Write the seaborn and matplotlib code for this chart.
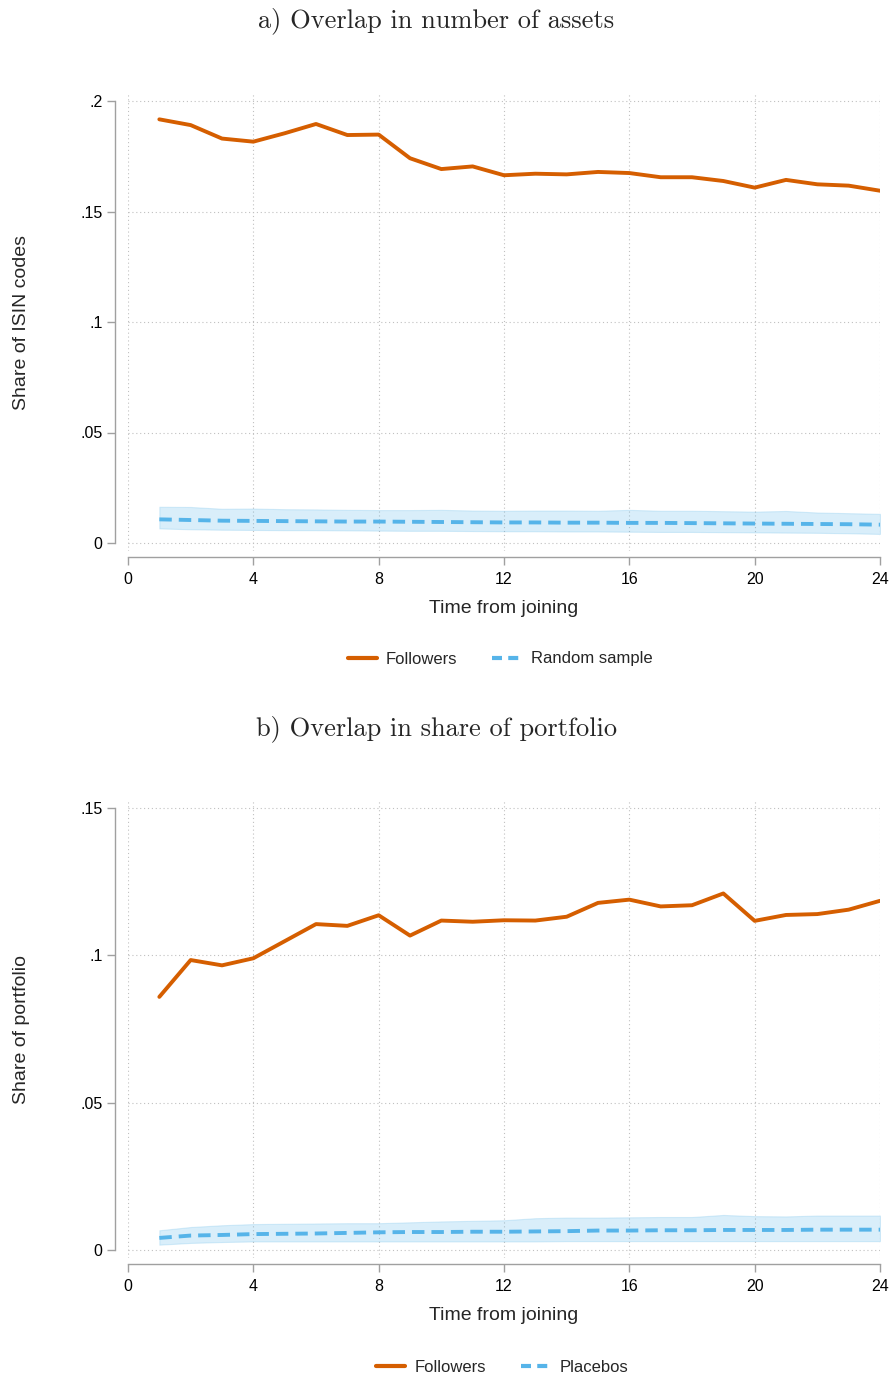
import numpy as np
import pandas as pd
import matplotlib
matplotlib.use("Agg")
import matplotlib.pyplot as plt
import seaborn as sns

# ---------------- data ----------------
months = list(range(1, 25))

followers_a = [0.1917, 0.1891, 0.1830, 0.1816, 0.1854, 0.1896, 0.1846, 0.1848,
               0.1741, 0.1692, 0.1704, 0.1664, 0.1671, 0.1668, 0.1679, 0.1674,
               0.1655, 0.1655, 0.1638, 0.1608, 0.1643, 0.1623, 0.1617, 0.1594]
random_a = [0.0107, 0.0104, 0.0101, 0.0100, 0.0099, 0.0098, 0.0097, 0.0097,
            0.0096, 0.0095, 0.0094, 0.0093, 0.0093, 0.0092, 0.0092, 0.0091,
            0.0091, 0.0090, 0.0089, 0.0088, 0.0087, 0.0086, 0.0085, 0.0083]
random_a_hi = [0.0164, 0.0163, 0.0155, 0.0156, 0.0153, 0.0152, 0.0150, 0.0149,
               0.0149, 0.0150, 0.0147, 0.0146, 0.0147, 0.0147, 0.0146, 0.0150,
               0.0146, 0.0146, 0.0144, 0.0142, 0.0145, 0.0138, 0.0135, 0.0132]
random_a_lo = [0.0066, 0.0062, 0.0060, 0.0059, 0.0058, 0.0058, 0.0057, 0.0056,
               0.0055, 0.0055, 0.0054, 0.0053, 0.0053, 0.0052, 0.0052, 0.0051,
               0.0050, 0.0050, 0.0049, 0.0048, 0.0047, 0.0046, 0.0044, 0.0041]

followers_b = [0.0859, 0.0984, 0.0966, 0.0990, 0.1048, 0.1106, 0.1100, 0.1136,
               0.1067, 0.1118, 0.1114, 0.1119, 0.1118, 0.1131, 0.1178, 0.1189,
               0.1166, 0.1170, 0.1210, 0.1117, 0.1137, 0.1140, 0.1155, 0.1185]
placebo_b = [0.0041, 0.0049, 0.0051, 0.0054, 0.0055, 0.0056, 0.0058, 0.0060,
             0.0061, 0.0061, 0.0062, 0.0062, 0.0063, 0.0064, 0.0066, 0.0066,
             0.0067, 0.0067, 0.0068, 0.0068, 0.0068, 0.0069, 0.0069, 0.0069]
placebo_b_hi = [0.0067, 0.0078, 0.0084, 0.0088, 0.0089, 0.0090, 0.0091, 0.0091,
                0.0094, 0.0097, 0.0099, 0.0101, 0.0108, 0.0110, 0.0110, 0.0111,
                0.0112, 0.0112, 0.0119, 0.0115, 0.0114, 0.0117, 0.0117, 0.0117]
placebo_b_lo = [0.0018, 0.0024, 0.0027, 0.0029, 0.0029, 0.0029, 0.0029, 0.0029,
                0.0029, 0.0029, 0.0029, 0.0029, 0.0029, 0.0030, 0.0030, 0.0030,
                0.0030, 0.0030, 0.0030, 0.0030, 0.0030, 0.0030, 0.0030, 0.0030]

x_ticks = [0, 4, 8, 12, 16, 20, 24]
y_ticks_a = [0, 0.05, 0.1, 0.15, 0.2]
y_labels_a = ["0", ".05", ".1", ".15", ".2"]
y_ticks_b = [0, 0.05, 0.1, 0.15]
y_labels_b = ["0", ".05", ".1", ".15"]

# ---------------- style ----------------
sns.set_theme(style="white")
plt.rcParams["font.family"] = ["Liberation Sans", "DejaVu Sans"]

ORANGE = "#D55E00"
BLUE = "#56B4E9"
GRAY = "#a0a0a0"
PX = 72 / 100  # points per pixel at dpi 100

fig = plt.figure(figsize=(8.92, 13.76), dpi=100)


def panel(rect, foll, rnd, lo, hi, yt, yl, ylim, ylabel, title, title_y, leg2, leg_x, leg_y):
    ax = fig.add_axes(rect)
    ax.fill_between(months, lo, hi, color=BLUE, alpha=0.22, linewidth=0.8,
                    edgecolor=(0.34, 0.71, 0.91, 0.25), zorder=1)
    df = pd.DataFrame({"t": months, "f": foll, "r": rnd})
    sns.lineplot(data=df, x="t", y="f", ax=ax, color=ORANGE, lw=2.8, zorder=3)
    sns.lineplot(data=df, x="t", y="r", ax=ax, color=BLUE, lw=2.8, zorder=3)
    ax.lines[-1].set_dashes([3.2, 1.8])
    ax.set_xlim(0, 24)
    ax.set_ylim(*ylim)
    ax.set_xticks(x_ticks)
    ax.set_xticklabels([str(v) for v in x_ticks])
    ax.set_yticks(yt)
    ax.set_yticklabels(yl)
    ax.grid(True, color="#c0c0c0", linestyle=(0, (1, 2.5)), linewidth=0.8)
    for s in ["top", "right"]:
        ax.spines[s].set_visible(False)
    ax.spines["left"].set_position(("outward", 13 * PX))
    ax.spines["bottom"].set_position(("outward", 6 * PX))
    ax.spines["left"].set_bounds(yt[0], yt[-1])
    ax.spines["bottom"].set_bounds(0, 24)
    for s in ["left", "bottom"]:
        ax.spines[s].set_color(GRAY)
        ax.spines[s].set_linewidth(1.0)
    ax.tick_params(axis="both", which="major", length=6, width=1.0, color=GRAY,
                   labelsize=11.5, labelcolor="black", direction="out",
                   left=True, bottom=True)
    ax.tick_params(axis="y", pad=3)
    ax.tick_params(axis="x", pad=5)
    ax.set_xlabel("Time from joining", fontsize=14, labelpad=9)
    ax.set_ylabel(ylabel, fontsize=14, labelpad=36)
    fig.text(0.489, title_y, title, ha="center", va="center",
             family=["cmr10", "DejaVu Serif"], fontsize=19)
    handles = [plt.Line2D([], [], color=ORANGE, lw=3.0),
               plt.Line2D([], [], color=BLUE, lw=3.0, dashes=[2.4, 1.5])]
    fig.legend(handles, ["Followers", leg2], loc="center",
               bbox_to_anchor=(leg_x, leg_y), ncol=2, frameon=False,
               fontsize=12, handlelength=1.75, handletextpad=0.55,
               columnspacing=2.1)
    return ax


left = 128 / 892
width = (880 - 128) / 892

# panel a: y .2 at px 101, 0 at px 543
pa = 0.2 / 442
ya_top, ya_bot = 0.2 + 8 * pa, -8 * pa
top_px = 101 - 8
bot_px = 543 + 8
panel([left, 1 - bot_px / 1376, width, (bot_px - top_px) / 1376],
      followers_a, random_a, random_a_lo, random_a_hi,
      y_ticks_a, y_labels_a, (ya_bot, ya_top), "Share of ISIN codes",
      "a) Overlap in number of assets", 1 - 21 / 1376, "Random sample",
      500 / 892, 1 - 659 / 1376)

# panel b: .15 at px 808, 0 at px 1250
pb = 0.15 / 442
yb_top, yb_bot = 0.15 + 8 * pb, -8 * pb
top_px = 808 - 8
bot_px = 1250 + 8
panel([left, 1 - bot_px / 1376, width, (bot_px - top_px) / 1376],
      followers_b, placebo_b, placebo_b_lo, placebo_b_hi,
      y_ticks_b, y_labels_b, (yb_bot, yb_top), "Share of portfolio",
      "b) Overlap in share of portfolio", 1 - 729 / 1376, "Placebos",
      502 / 892, 1 - 1367 / 1376)

fig.savefig("out.png", dpi=100, facecolor="white")
